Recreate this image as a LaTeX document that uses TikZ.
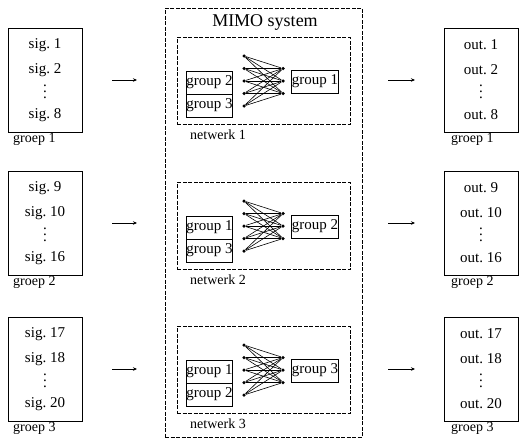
\documentclass[tikz,border=0pt]{standalone}
\usepackage{fontspec}
\setmainfont{Liberation Serif}
\usetikzlibrary{arrows.meta}
\newcommand\vdts{\vbox{\baselineskip6pt\lineskiplimit0pt\hbox{.}\hbox{.}\hbox{.}}}
\begin{document}
\begin{tikzpicture}[x=1pt,y=-1pt,
  txt/.style={font=\fontsize{15}{17}\selectfont, inner sep=0pt},
  lbl/.style={font=\fontsize{14}{16}\selectfont, inner sep=0pt, anchor=north west},
  sigbox/.style={draw, line width=1pt, minimum width=74pt, minimum height=104pt, anchor=north west, inner sep=0pt},
  grpbox/.style={draw, line width=0.8pt, minimum width=45pt, minimum height=23pt, inner sep=0pt, font=\fontsize{15}{17}\selectfont},
  dashbox/.style={draw, line width=0.7pt, dash pattern=on 4pt off 1.5pt, inner sep=0pt},
  dot/.style={circle, fill, inner sep=0pt, minimum size=3.5pt},
  arr/.style={line width=0.9pt, -{Stealth[length=4pt,width=3.5pt]}},
  wire/.style={line width=0.6pt}]
\useasboundingbox (0,0) rectangle (519,442);
% MIMO outer box
\node[dashbox, minimum width=197pt, minimum height=429pt] (M) at (263.5,222.5) {};
\node[font=\fontsize{18}{20}\selectfont, inner sep=0pt] (T) at (265,22) {MIMO system};
\foreach \i/\ty/\a/\b/\c/\cy/\gA/\gB in {1/28/1/2/8/81/2/3, 2/171/9/10/16/226/1/3, 3/317/17/18/20/370/1/2}{
  % left signal box
  \node[sigbox] (L\i) at (8,\ty) {};
  \node[txt] (L\i a) at (45,\ty+17) {sig.~\a};
  \node[txt] (L\i b) at (45,\ty+42) {sig.~\b};
  \node[txt] (L\i d) at (45,\ty+64) {\vdts};
  \node[txt] (L\i c) at (45,\ty+87) {sig.~\c};
  \node[lbl] (L\i g) at (13,\ty+105) {groep \i};
  % right output box
  \node[sigbox] (R\i) at (444,\ty) {};
  \node[txt] (R\i a) at (481,\ty+17) {out.~\a};
  \node[txt] (R\i b) at (481,\ty+42) {out.~\b};
  \node[txt] (R\i d) at (481,\ty+64) {\vdts};
  \node[txt] (R\i c) at (481,\ty+87) {out.~\c};
  \node[lbl] (R\i g) at (451,\ty+105) {groep \i};
  % arrows
  \coordinate (A\i s) at (112,\ty+52);
  \coordinate (A\i e) at (137,\ty+52);
  \draw[arr] (A\i s) -- (A\i e);
  \coordinate (B\i s) at (388,\ty+52);
  \coordinate (B\i e) at (415,\ty+52);
  \draw[arr] (B\i s) -- (B\i e);
  % network box
  \node[dashbox, minimum width=173pt, minimum height=87pt] (N\i) at (263.5,\cy) {};
  \node[lbl, anchor=west] (N\i l) at (190,\cy+54) {netwerk \i};
  \node[grpbox] (G\i a) at (209.5,\cy+1.5) {group \gA};
  \node[grpbox] (G\i b) at (209.5,\cy+24.5) {group \gB};
  \node[grpbox] (G\i r) at (315,\cy+0.5) {group \i};
  % neural net
  \foreach \k/\o in {1/-25,2/-12.5,3/0,4/12.5,5/25}
    \node[dot] (P\i-\k) at (244,\cy+\o) {};
  \foreach \m/\o in {1/-12.5,2/0,3/12.5}
    \node[dot] (Q\i-\m) at (283,\cy+\o) {};
  \foreach \k in {1,...,5}
    \foreach \m in {1,2,3}
      \draw[wire] (P\i-\k) -- (Q\i-\m);
}
\end{tikzpicture}
\end{document}
